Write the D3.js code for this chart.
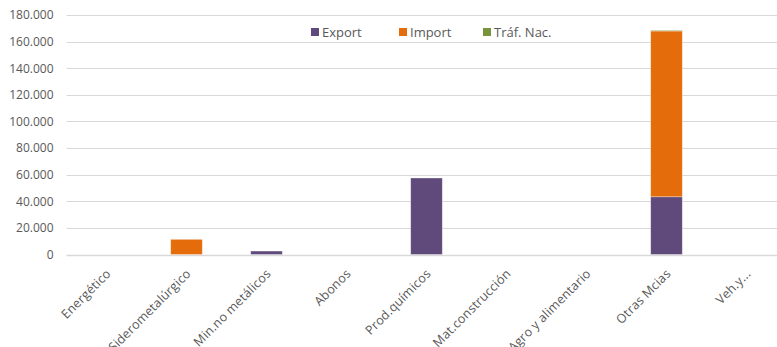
<!DOCTYPE html>
<html>
<head>
<meta charset="utf-8">
<script src="https://cdn.jsdelivr.net/npm/d3@7"></script>
<style>
  html, body { margin: 0; padding: 0; background: #fff; overflow: hidden; }
  svg { display: block; font-family: "Open Sans", "Liberation Sans", sans-serif; }
</style>
</head>
<body>
<svg id="chart" width="777" height="347"></svg>
<script>
// Tonnage by goods group, split by traffic type
const categories = ["Energético", "Siderometalúrgico", "Min.no metálicos", "Abonos",
  "Prod.químicos", "Mat.construcción", "Agro y alimentario", "Otras Mcias", "Veh.y..."];
const exportVals = [0, 0, 2600, 0, 57500, 0, 0, 43400, 0];
const importVals = [0, 11400, 0, 0, 0, 0, 0, 124600, 0];
const tradNacVals = [0, 0, 0, 0, 0, 0, 0, 500, 0];
const yTicks = [0, 20000, 40000, 60000, 80000, 100000, 120000, 140000, 160000, 180000];

const seriesNames = ["Export", "Import", "Tráf. Nac."];
const colors = ["#604A7B", "#E46C0A", "#77933C"];

const svg = d3.select("#chart");
const margin = { left: 66.5, top: 15, bottom: 254.5 };
const bandW = 80;

const x = d3.scaleBand()
  .domain(categories)
  .range([margin.left, margin.left + bandW * categories.length])
  .paddingInner(0.605)
  .paddingOuter(0.3025);

const y = d3.scaleLinear().domain([0, 180000]).range([margin.bottom, margin.top]);

const fmt = v => d3.format(",")(v).replace(/,/g, ".");

// Gridlines
svg.append("g")
  .selectAll("line")
  .data(yTicks)
  .join("line")
  .attr("x1", margin.left)
  .attr("x2", margin.left + bandW * categories.length)
  .attr("y1", d => Math.round(y(d)) + 0.5)
  .attr("y2", d => Math.round(y(d)) + 0.5)
  .attr("stroke", "#d9d9d9")
  .attr("stroke-width", d => d === 0 ? 1.5 : 1);

// Y axis labels
const yAxis = d3.axisLeft(y).tickValues(yTicks).tickFormat(fmt).tickSize(0).tickPadding(13);
svg.append("g")
  .attr("transform", `translate(${margin.left},0)`)
  .call(yAxis)
  .call(g => g.select(".domain").remove())
  .call(g => g.selectAll("text")
    .attr("fill", "#595959")
    .style("font-size", "12px")
    .style("font-family", "'Open Sans', sans-serif"));

// Stacked bars
const rows = categories.map((c, i) => ({
  cat: c, "Export": exportVals[i], "Import": importVals[i], "Tráf. Nac.": tradNacVals[i]
}));
const stack = d3.stack().keys(seriesNames)(rows);

svg.append("g")
  .selectAll("g")
  .data(stack)
  .join("g")
  .attr("fill", (d, i) => colors[i])
  .selectAll("rect")
  .data(d => d.filter(s => s[1] - s[0] > 0))
  .join("rect")
  .attr("x", d => x(d.data.cat))
  .attr("width", x.bandwidth())
  .attr("y", d => y(d[1]))
  .attr("height", d => y(d[0]) - y(d[1]))
  .attr("stroke", "#ffffff")
  .attr("stroke-opacity", 0.45)
  .attr("stroke-width", 0.75);

// X axis labels, rotated
const xAxis = d3.axisBottom(x).tickSize(0).tickPadding(0);
svg.append("g")
  .attr("transform", `translate(0,${margin.bottom})`)
  .call(xAxis)
  .call(g => g.select(".domain").remove())
  .call(g => g.selectAll("text")
    .attr("fill", "#595959")
    .style("font-size", "12.5px")
    .style("letter-spacing", "0.2px")
    .style("font-family", "'Open Sans', sans-serif")
    .attr("text-anchor", "end")
    .attr("dy", null)
    .attr("transform", "translate(5,20) rotate(-45)"));

// Legend
const legendX = [311, 399, 483];
const legend = svg.append("g")
  .selectAll("g")
  .data(seriesNames)
  .join("g")
  .attr("transform", (d, i) => `translate(${legendX[i]},28)`);
legend.append("rect")
  .attr("width", 8).attr("height", 8)
  .attr("fill", (d, i) => colors[i]);
legend.append("text")
  .attr("x", 11).attr("y", 4)
  .attr("dy", "0.35em")
  .attr("fill", "#595959")
  .style("font-size", "13px")
  .text(d => d);
</script>
</body>
</html>
